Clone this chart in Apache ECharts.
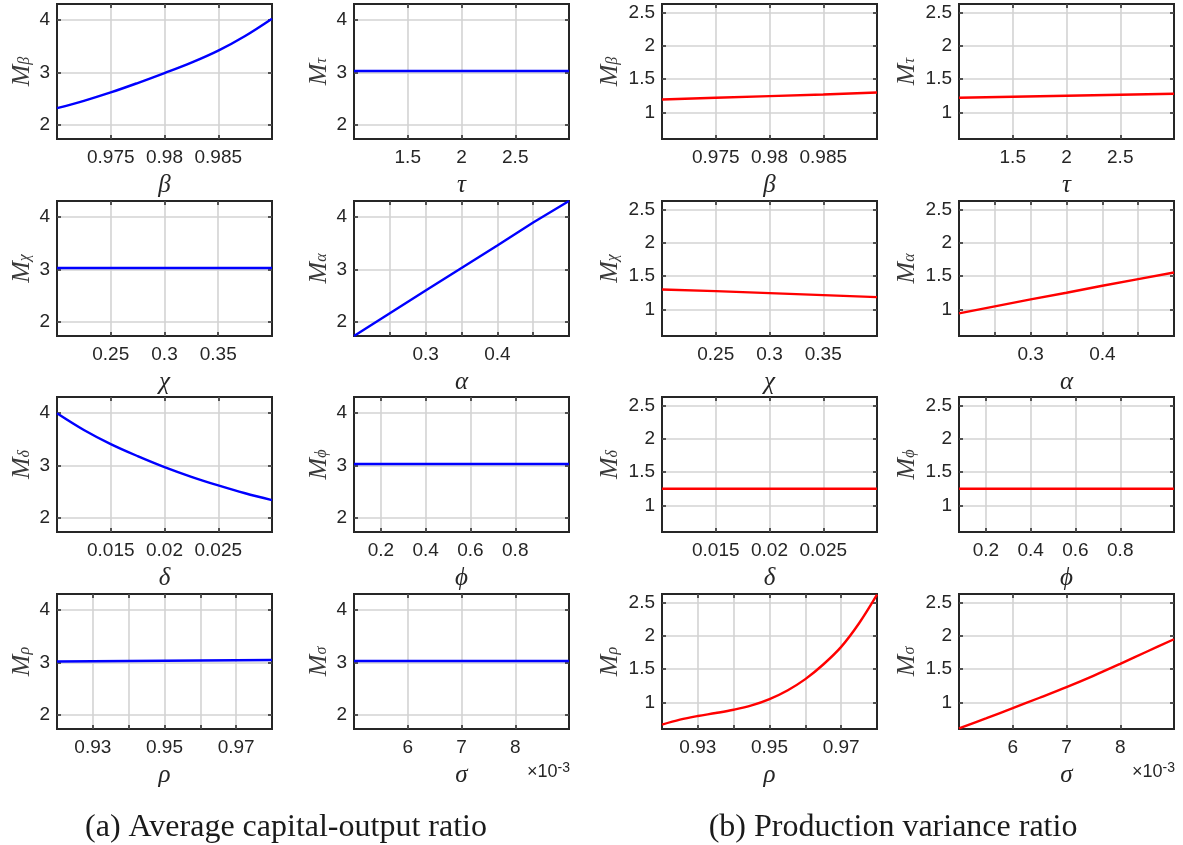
<!DOCTYPE html>
<html><head><meta charset="utf-8">
<script src="https://cdn.jsdelivr.net/npm/echarts@6/dist/echarts.min.js"></script>
<style>html,body{margin:0;padding:0;background:#fff}#c{width:1183px;height:845px}</style>
</head><body><div id="c"></div>
<script>
// ---------------- data ----------------
const betaX = [0.97, 0.9725, 0.975, 0.9775, 0.98, 0.9825, 0.985, 0.9875, 0.99];
const betaCapital = [2.32, 2.46, 2.62, 2.80, 2.99, 3.19, 3.42, 3.70, 4.03];
const betaVarX = [0.97, 0.975, 0.98, 0.985, 0.99];
const betaVariance = [1.195, 1.22, 1.245, 1.27, 1.30];

const tauX = [1, 1.5, 2, 2.5, 3];
const tauCapital = [3.03, 3.03, 3.03, 3.03, 3.03];
const tauVariance = [1.22, 1.235, 1.25, 1.265, 1.28];

const chiX = [0.2, 0.25, 0.3, 0.35, 0.4];
const chiCapital = [3.03, 3.03, 3.03, 3.03, 3.03];
const chiVariance = [1.30, 1.275, 1.245, 1.215, 1.185];

const alphaX = [0.2, 0.25, 0.3, 0.35, 0.4, 0.45, 0.5];
const alphaCapital = [1.73, 2.165, 2.60, 3.03, 3.46, 3.90, 4.31];
const alphaVariance = [0.94, 1.045, 1.15, 1.25, 1.355, 1.455, 1.555];

const deltaX = [0.01, 0.0125, 0.015, 0.0175, 0.02, 0.0225, 0.025, 0.0275, 0.03];
const deltaCapital = [4.00, 3.68, 3.41, 3.18, 2.97, 2.785, 2.62, 2.47, 2.34];
const deltaVarX = [0.01, 0.02, 0.03];
const deltaVariance = [1.25, 1.25, 1.25];

const phiX = [0.08, 0.4, 0.7, 1.04];
const phiCapital = [3.03, 3.03, 3.03, 3.03];
const phiVariance = [1.25, 1.25, 1.25, 1.25];

const rhoCapX = [0.92, 0.95, 0.98];
const rhoCapital = [3.02, 3.035, 3.05];
const rhoVarX = [0.92, 0.925, 0.93, 0.935, 0.94, 0.945, 0.95, 0.955, 0.96, 0.965, 0.97, 0.975, 0.98];
const rhoVariance = [0.665, 0.74, 0.795, 0.84, 0.89, 0.955, 1.05, 1.18, 1.35, 1.57, 1.835, 2.19, 2.62];

const sigmaCapX = [0.005, 0.007, 0.009];
const sigmaCapital = [3.03, 3.03, 3.03];
const sigmaVarX = [0.005, 0.0055, 0.006, 0.0065, 0.007, 0.0075, 0.008, 0.0085, 0.009];
const sigmaVariance = [0.61, 0.76, 0.914, 1.07, 1.23, 1.40, 1.58, 1.765, 1.95];

// tick values / tick labels
const betaTicks = [0.975, 0.98, 0.985];
const tauTicks = [1.5, 2, 2.5];
const chiTicks = [0.25, 0.3, 0.35];
const alphaTicks = [0.25, 0.3, 0.35, 0.4, 0.45];
const alphaLabels = [0.3, 0.4];
const deltaTicks = [0.015, 0.02, 0.025];
const phiTicks = [0.2, 0.4, 0.6, 0.8];
const rhoTicks = [0.93, 0.94, 0.95, 0.96, 0.97];
const rhoLabels = [0.93, 0.95, 0.97];
const sigmaTicks = [0.006, 0.007, 0.008];
const capitalYTicks = [2, 3, 4];
const varianceYTicks = [1, 1.5, 2, 2.5];

const captionA = '(a) Average capital-output ratio';
const captionB = '(b) Production variance ratio';

// ---------------- layout / styling ----------------
const INK = '#262626';
const GRIDC = '#d3d3d3';
const colLeft = [57, 354, 662, 959];
const rowTop = [4, 201, 397, 594];
const W = 215, H = 135;

const params = {
  beta:  {sym: 'β', min: 0.97, max: 0.99, ticks: betaTicks, labels: betaTicks},
  tau:   {sym: 'τ', min: 1, max: 3, ticks: tauTicks, labels: tauTicks},
  chi:   {sym: 'χ', min: 0.2, max: 0.4, ticks: chiTicks, labels: chiTicks},
  alpha: {sym: 'α', min: 0.2, max: 0.5, ticks: alphaTicks, labels: alphaLabels},
  delta: {sym: 'δ', min: 0.01, max: 0.03, ticks: deltaTicks, labels: deltaTicks},
  phi:   {sym: 'ϕ', min: 0.08, max: 1.04, ticks: phiTicks, labels: phiTicks},
  rho:   {sym: 'ρ', min: 0.92, max: 0.98, ticks: rhoTicks, labels: rhoLabels},
  sigma: {sym: 'σ', min: 0.005, max: 0.009, ticks: sigmaTicks, labels: sigmaTicks, milli: true}
};
const kinds = {
  cap: {min: 1.73, max: 4.31, ticks: capitalYTicks, color: '#0000ff', gap: 24},
  vr:  {min: 0.6, max: 2.63, ticks: varianceYTicks, color: '#ff0000', gap: 41}
};

const panels = [
  {r:0, c:0, p:'beta',  k:'cap', x: betaX,     y: betaCapital,   smooth: true},
  {r:0, c:1, p:'tau',   k:'cap', x: tauX,      y: tauCapital},
  {r:0, c:2, p:'beta',  k:'vr',  x: betaVarX,  y: betaVariance},
  {r:0, c:3, p:'tau',   k:'vr',  x: tauX,      y: tauVariance},
  {r:1, c:0, p:'chi',   k:'cap', x: chiX,      y: chiCapital},
  {r:1, c:1, p:'alpha', k:'cap', x: alphaX,    y: alphaCapital},
  {r:1, c:2, p:'chi',   k:'vr',  x: chiX,      y: chiVariance},
  {r:1, c:3, p:'alpha', k:'vr',  x: alphaX,    y: alphaVariance},
  {r:2, c:0, p:'delta', k:'cap', x: deltaX,    y: deltaCapital,  smooth: true},
  {r:2, c:1, p:'phi',   k:'cap', x: phiX,      y: phiCapital},
  {r:2, c:2, p:'delta', k:'vr',  x: deltaVarX, y: deltaVariance},
  {r:2, c:3, p:'phi',   k:'vr',  x: phiX,      y: phiVariance},
  {r:3, c:0, p:'rho',   k:'cap', x: rhoCapX,   y: rhoCapital},
  {r:3, c:1, p:'sigma', k:'cap', x: sigmaCapX, y: sigmaCapital},
  {r:3, c:2, p:'rho',   k:'vr',  x: rhoVarX,   y: rhoVariance,   smooth: true},
  {r:3, c:3, p:'sigma', k:'vr',  x: sigmaVarX, y: sigmaVariance, smooth: true}
];

const labelFont = {fontFamily: 'Liberation Sans, Arial, sans-serif', fontSize: 19, color: INK};
const mathFont = 'Liberation Serif, DejaVu Serif, serif';
const fmt = v => String(+(+v).toFixed(6));

const grid = [], xAxis = [], yAxis = [], series = [];
panels.forEach((pn, i) => {
  const P = params[pn.p], K = kinds[pn.k];
  grid.push({left: colLeft[pn.c], top: rowTop[pn.r], width: W, height: H, show: true,
    borderColor: INK, borderWidth: 2, backgroundColor: '#fff', outerBoundsMode: 'none', containLabel: false});
  const xi = xAxis.length, yi = yAxis.length;
  xAxis.push({type: 'value', gridIndex: i, position: 'bottom', min: P.min, max: P.max,
    name: P.sym, nameLocation: 'middle', nameGap: 34, nameMoveOverlap: false,
    nameTextStyle: {fontFamily: mathFont, fontStyle: 'italic', fontSize: 25, color: INK},
    axisLine: {show: false},
    axisTick: {show: true, inside: true, length: 4, customValues: P.ticks, lineStyle: {color: INK, width: 1.5}},
    axisLabel: Object.assign({show: true, margin: 9, customValues: P.labels,
      formatter: P.milli ? (v => String(Math.round(v * 1000))) : fmt}, labelFont),
    splitLine: {show: true, lineStyle: {color: GRIDC, width: 1.6}}
  });
  xAxis.push({type: 'value', gridIndex: i, position: 'top', min: P.min, max: P.max,
    axisLine: {show: false},
    axisTick: {show: true, inside: true, length: 4, customValues: P.ticks, lineStyle: {color: INK, width: 1.5}},
    axisLabel: {show: false}, splitLine: {show: false}
  });
  yAxis.push({type: 'value', gridIndex: i, position: 'left', min: K.min, max: K.max,
    name: '{m|M}{s|' + P.sym + '}', nameLocation: 'middle', nameGap: K.gap, nameMoveOverlap: false,
    nameTextStyle: {color: INK, rich: {
      m: {fontFamily: mathFont, fontStyle: 'italic', fontSize: 26, lineHeight: 24, verticalAlign: 'top', color: '#3a3a3a'},
      s: {fontFamily: mathFont, fontStyle: 'italic', fontSize: 16, lineHeight: 15, verticalAlign: 'bottom', padding: [12, 0, 0, 0], color: '#3a3a3a'}
    }},
    axisLine: {show: false},
    axisTick: {show: true, inside: true, length: 4, customValues: K.ticks, lineStyle: {color: INK, width: 1.5}},
    axisLabel: Object.assign({show: true, margin: 7, customValues: K.ticks, formatter: fmt}, labelFont),
    splitLine: {show: true, lineStyle: {color: GRIDC, width: 1.6}}
  });
  yAxis.push({type: 'value', gridIndex: i, position: 'right', min: K.min, max: K.max,
    axisLine: {show: false},
    axisTick: {show: true, inside: true, length: 4, customValues: K.ticks, lineStyle: {color: INK, width: 1.5}},
    axisLabel: {show: false}, splitLine: {show: false}
  });
  series.push({type: 'line', xAxisIndex: xi, yAxisIndex: yi,
    data: pn.x.map((v, j) => [v, pn.y[j]]),
    showSymbol: false, smooth: pn.smooth ? 0.35 : false, clip: true,
    lineStyle: {color: K.color, width: 2.4}, itemStyle: {color: K.color}, z: 5
  });
});

const expText = (right) => ({type: 'text', right: right, top: 761,
  style: {text: '×10{sup|-3}', fill: INK, font: '18px "Liberation Sans", Arial, sans-serif',
    rich: {sup: {fontSize: 14, verticalAlign: 'top', padding: [0, 0, 9, 0], fill: INK}}}});

const option = {
  animation: false,
  backgroundColor: '#fff',
  grid, xAxis, yAxis, series,
  graphic: [
    expText(1183 - 570),
    expText(1183 - 1175),
    {type: 'text', x: 286, y: 828, style: {text: captionA, fill: '#1a1a1a', font: '32px "Liberation Serif", serif', align: 'center', verticalAlign: 'middle'}},
    {type: 'text', x: 893, y: 828, style: {text: captionB, fill: '#1a1a1a', font: '32px "Liberation Serif", serif', align: 'center', verticalAlign: 'middle'}}
  ]
};
const chart = echarts.init(document.getElementById('c'), null, {renderer: 'canvas'});
chart.setOption(option);
</script></body></html>
